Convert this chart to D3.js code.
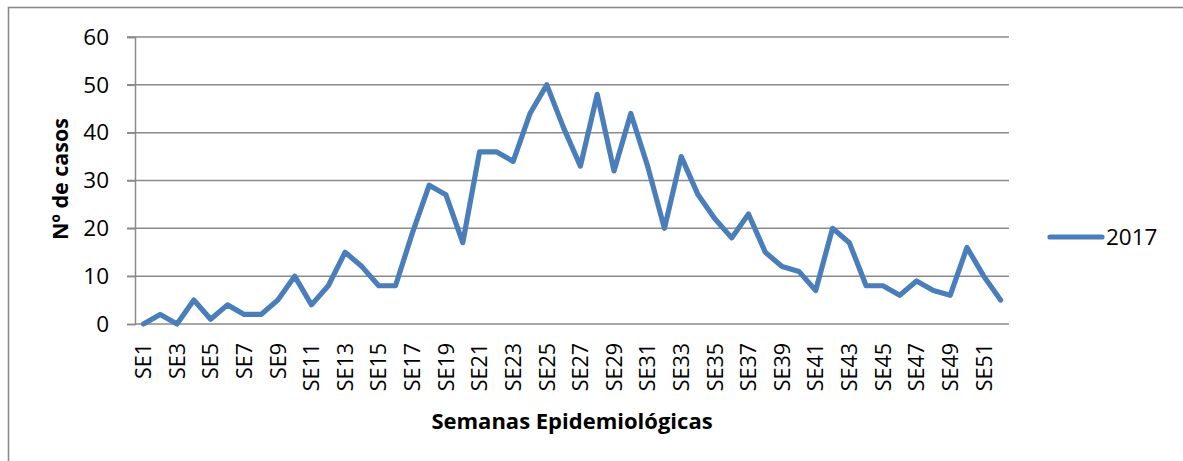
<!DOCTYPE html>
<html>
<head>
<meta charset="utf-8">
<script src="https://cdn.jsdelivr.net/npm/d3@7"></script>
<style>
  body { margin: 0; background: #fff; }
  svg { display: block; font-family: "Open Sans", sans-serif; }
</style>
</head>
<body>
<svg id="chart" width="1183" height="461"></svg>
<script>
// semanas epidemiologicas SE1..SE52
var weeks = d3.range(1, 53).map(function (i) { return "SE" + i; });
var cases2017 = [0, 2, 0, 5, 1, 4, 2, 2, 5, 10, 4, 8, 15, 12, 8, 8, 19, 29, 27, 17,
                 36, 36, 34, 44, 50, 41, 33, 48, 32, 44, 33, 20, 35, 27, 22, 18, 23, 15, 12, 11,
                 7, 20, 17, 8, 8, 6, 9, 7, 6, 16, 10, 5];
var yTicks = [0, 10, 20, 30, 40, 50, 60];
var seriesName = "2017";

var svg = d3.select("#chart");
var grey = "#8a8a8a", blue = "#4a7ebb";

// outer frame (runs off the right / bottom edge)
svg.append("rect")
  .attr("x", 8.5).attr("y", 7.5).attr("width", 1300).attr("height", 600)
  .attr("fill", "none").attr("stroke", grey).attr("stroke-width", 1.6);

var m = { left: 135, right: 1009, top: 37, bottom: 324 };

var x = d3.scaleBand().domain(weeks).range([m.left, m.right]);
var y = d3.scaleLinear().domain([0, 60]).range([m.bottom, m.top]);

// gridlines
svg.append("g").selectAll("line").data(yTicks.filter(function (d) { return d > 0; }))
  .join("line")
  .attr("x1", m.left - 8).attr("x2", m.right)
  .attr("y1", function (d) { return y(d); }).attr("y2", function (d) { return y(d); })
  .attr("stroke", grey).attr("stroke-width", 1.5);

// y axis
var yAxis = svg.append("g").attr("transform", "translate(" + m.left + ",0)")
  .call(d3.axisLeft(y).tickValues(yTicks).tickSize(8).tickPadding(18));
yAxis.select(".domain").attr("stroke", grey).attr("stroke-width", 1.5);
yAxis.selectAll(".tick line").attr("stroke", grey).attr("stroke-width", 1.5);
yAxis.selectAll("text").attr("font-family", "Open Sans").attr("font-size", 22.5).attr("fill", "#000");

// x axis
var xAxis = svg.append("g").attr("transform", "translate(0," + m.bottom + ")")
  .call(d3.axisBottom(x).tickValues(weeks.filter(function (d, i) { return i % 2 === 0; })).tickSize(0));
xAxis.select(".domain").attr("stroke", grey).attr("stroke-width", 1.5)
  .attr("d", "M" + m.left + ",0H" + m.right);
xAxis.selectAll("text")
  .attr("font-family", "Open Sans").attr("font-size", 21.5).attr("fill", "#000")
  .attr("text-anchor", "end")
  .attr("transform", "rotate(-90)")
  .attr("x", -19).attr("y", 0).attr("dy", "0.36em");

// line
var line = d3.line()
  .x(function (d, i) { return x(weeks[i]) + x.bandwidth() / 2; })
  .y(function (d) { return y(d); });
svg.append("path").datum(cases2017)
  .attr("d", line)
  .attr("fill", "none").attr("stroke", blue).attr("stroke-width", 5.2)
  .attr("stroke-linejoin", "round").attr("stroke-linecap", "round");

// axis titles
svg.append("text")
  .attr("x", 572).attr("y", 429)
  .attr("text-anchor", "middle").attr("font-weight", "bold").attr("font-size", 22)
  .text("Semanas Epidemiológicas");
svg.append("text")
  .attr("transform", "translate(68,179) rotate(-90)")
  .attr("text-anchor", "middle").attr("font-weight", "bold").attr("font-size", 21.5)
  .text("Nº de casos");

// legend
var lg = svg.append("g");
lg.append("line").attr("x1", 1050).attr("x2", 1102).attr("y1", 237).attr("y2", 237)
  .attr("stroke", blue).attr("stroke-width", 5.2).attr("stroke-linecap", "round");
lg.append("text").attr("x", 1106).attr("y", 245).attr("font-size", 22.5).text(seriesName);
</script>
</body>
</html>
